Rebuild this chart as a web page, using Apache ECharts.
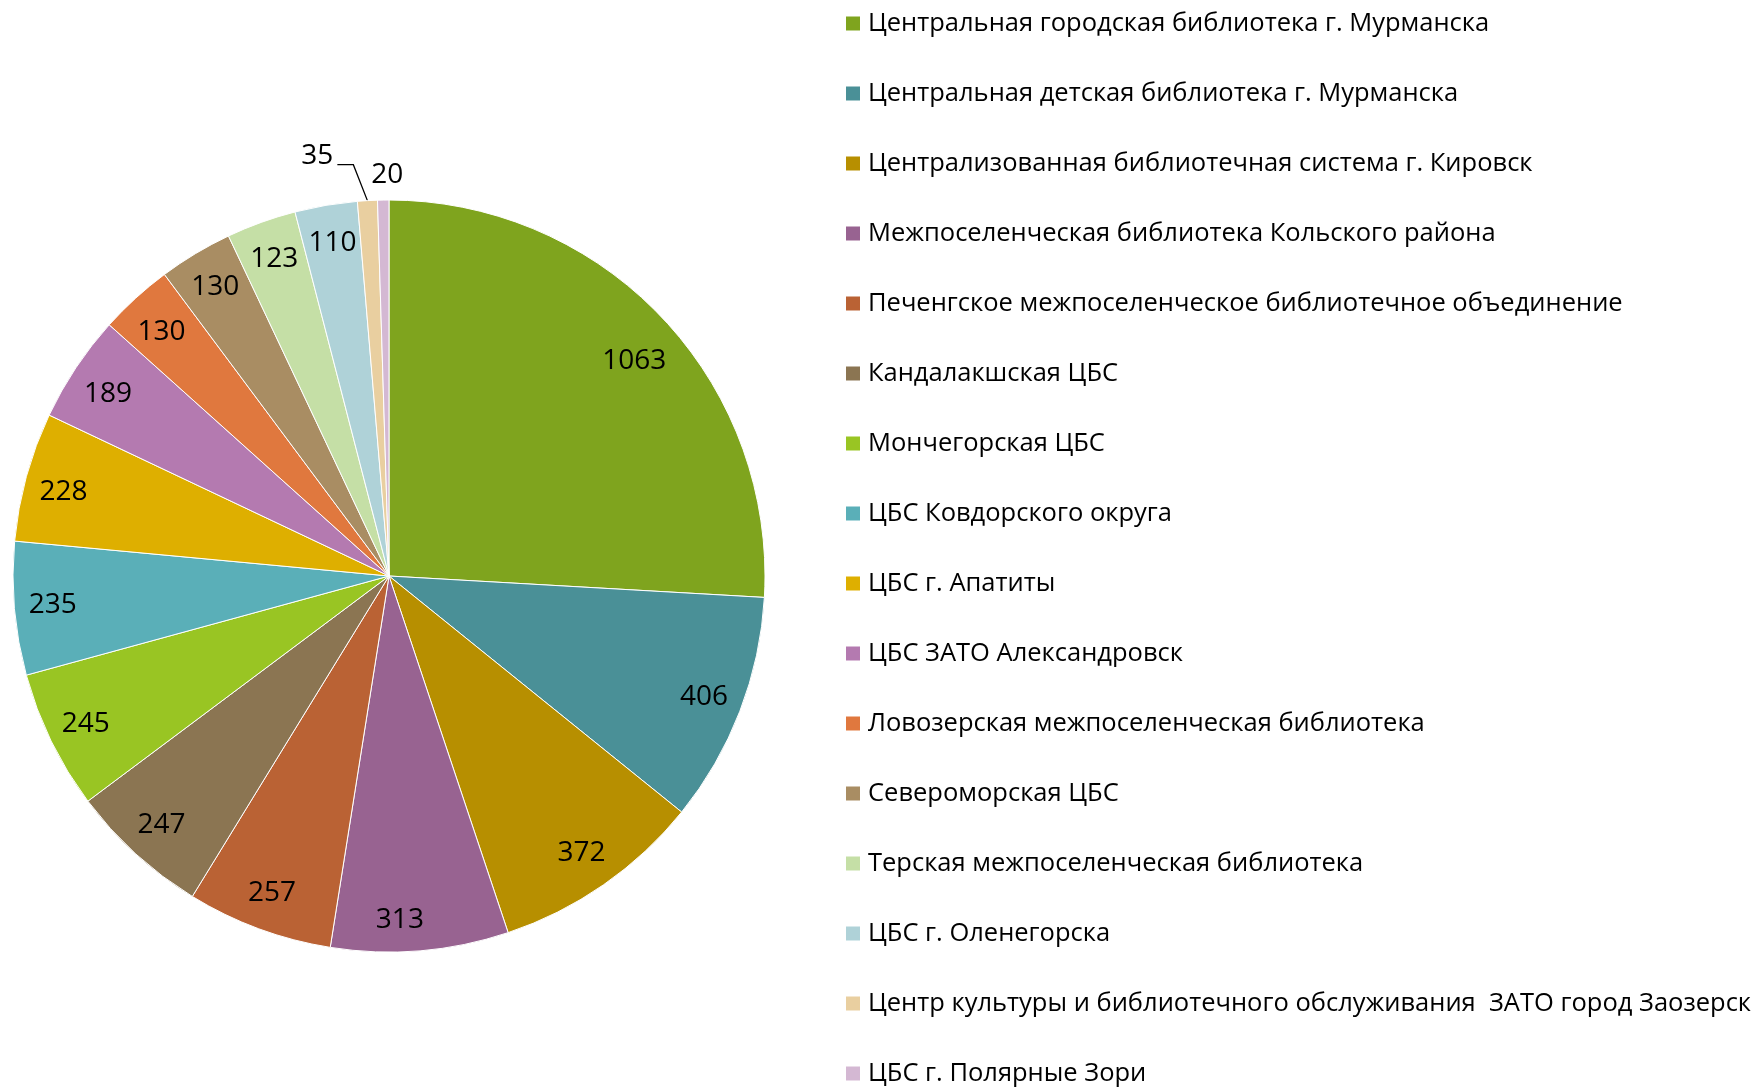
<!DOCTYPE html>
<html>
<head>
<meta charset="utf-8">
<script src="https://cdn.jsdelivr.net/npm/echarts@6/dist/echarts.min.js"></script>
<style>
html,body{margin:0;padding:0;background:#fff;}
#chart{width:1752px;height:1087px;}
</style>
</head>
<body>
<div id="chart"></div>
<script>
const categories = [
  'Центральная городская библиотека г. Мурманска',
  'Центральная детская библиотека г. Мурманска',
  'Централизованная библиотечная система г. Кировск',
  'Межпоселенческая библиотека Кольского района',
  'Печенгское межпоселенческое библиотечное объединение',
  'Кандалакшская ЦБС',
  'Мончегорская ЦБС',
  'ЦБС Ковдорского округа',
  'ЦБС г. Апатиты',
  'ЦБС ЗАТО Александровск',
  'Ловозерская межпоселенческая библиотека',
  'Североморская ЦБС',
  'Терская межпоселенческая библиотека',
  'ЦБС г. Оленегорска',
  'Центр культуры и библиотечного обслуживания  ЗАТО город Заозерск',
  'ЦБС г. Полярные Зори'
];
const values = [1063, 406, 372, 313, 257, 247, 245, 235, 228, 189, 130, 130, 123, 110, 35, 20];
const colors = [
  '#7FA41E', '#4A9097', '#B78F00', '#986391', '#BA6234', '#8B7552', '#99C523', '#5AAFB8',
  '#DEAF00', '#B47AB0', '#E0783E', '#A98D63', '#C5DFA6', '#AFD2D8', '#E9CFA0', '#D4B8D3'
];

const FONT = 'Open Sans';
const chart = echarts.init(document.getElementById('chart'), null, {renderer: 'canvas'});

const mainData = categories.map((n, i) => ({name: n, value: values[i], itemStyle: {color: colors[i]}}));
const labelData = categories.map((n, i) => {
  const d = {name: n, value: values[i]};
  if (i === 14) {
    d.label = {position: 'outside', distance: 4};
    d.labelLine = {show: true, length: 36, length2: 16, lineStyle: {color: '#000', width: 1.3}};
  } else if (i === 15) {
    d.label = {position: 'outside'};
    d.labelLine = {show: false, length: 6, length2: 0};
  }
  return d;
});

chart.setOption({
  animation: false,
  backgroundColor: '#fff',
  legend: {
    orient: 'vertical',
    left: 844,
    top: 10.5,
    height: 1300,
    padding: 0,
    icon: 'rect',
    itemWidth: 16,
    itemHeight: 16,
    itemGap: 44,
    selectedMode: false,
    data: categories,
    textStyle: {fontFamily: FONT, fontSize: 25.5, color: '#000', padding: [0, 0, 0, 2]}
  },
  series: [
    {
      type: 'pie',
      center: [389, 576],
      radius: [0, 376],
      startAngle: 90,
      clockwise: true,
      silent: true,
      label: {show: false},
      labelLine: {show: false},
      itemStyle: {borderColor: '#fff', borderWidth: 1},
      data: mainData
    },
    {
      type: 'pie',
      center: [389, 576],
      radius: [293, 376],
      startAngle: 90,
      clockwise: true,
      silent: true,
      avoidLabelOverlap: false,
      itemStyle: {color: 'rgba(0,0,0,0)'},
      label: {show: true, position: 'inside', fontFamily: FONT, fontSize: 28, color: '#000', formatter: '{c}'},
      labelLine: {show: false},
      labelLayout: function (p) {
        if (p.dataIndex === 0) return {dy: 17};
        if (p.dataIndex === 3) return {dx: -17, dy: 8};
        if (p.dataIndex === 9 || p.dataIndex === 10 || p.dataIndex === 8) return {dy: 5};
        if (p.dataIndex === 14) {
          const pts = p.labelLinePoints;
          if (pts) {
            return {
              dx: -11, dy: -9,
              labelLinePoints: [pts[0], [pts[1][0] - 12, pts[1][1]], [pts[2][0] - 12, pts[2][1]]]
            };
          }
          return {dx: -11, dy: -9};
        }
        if (p.dataIndex === 15) return {align: 'center', dx: 9, dy: -19};
        return {};
      },
      data: labelData
    }
  ]
});
</script>
</body>
</html>
